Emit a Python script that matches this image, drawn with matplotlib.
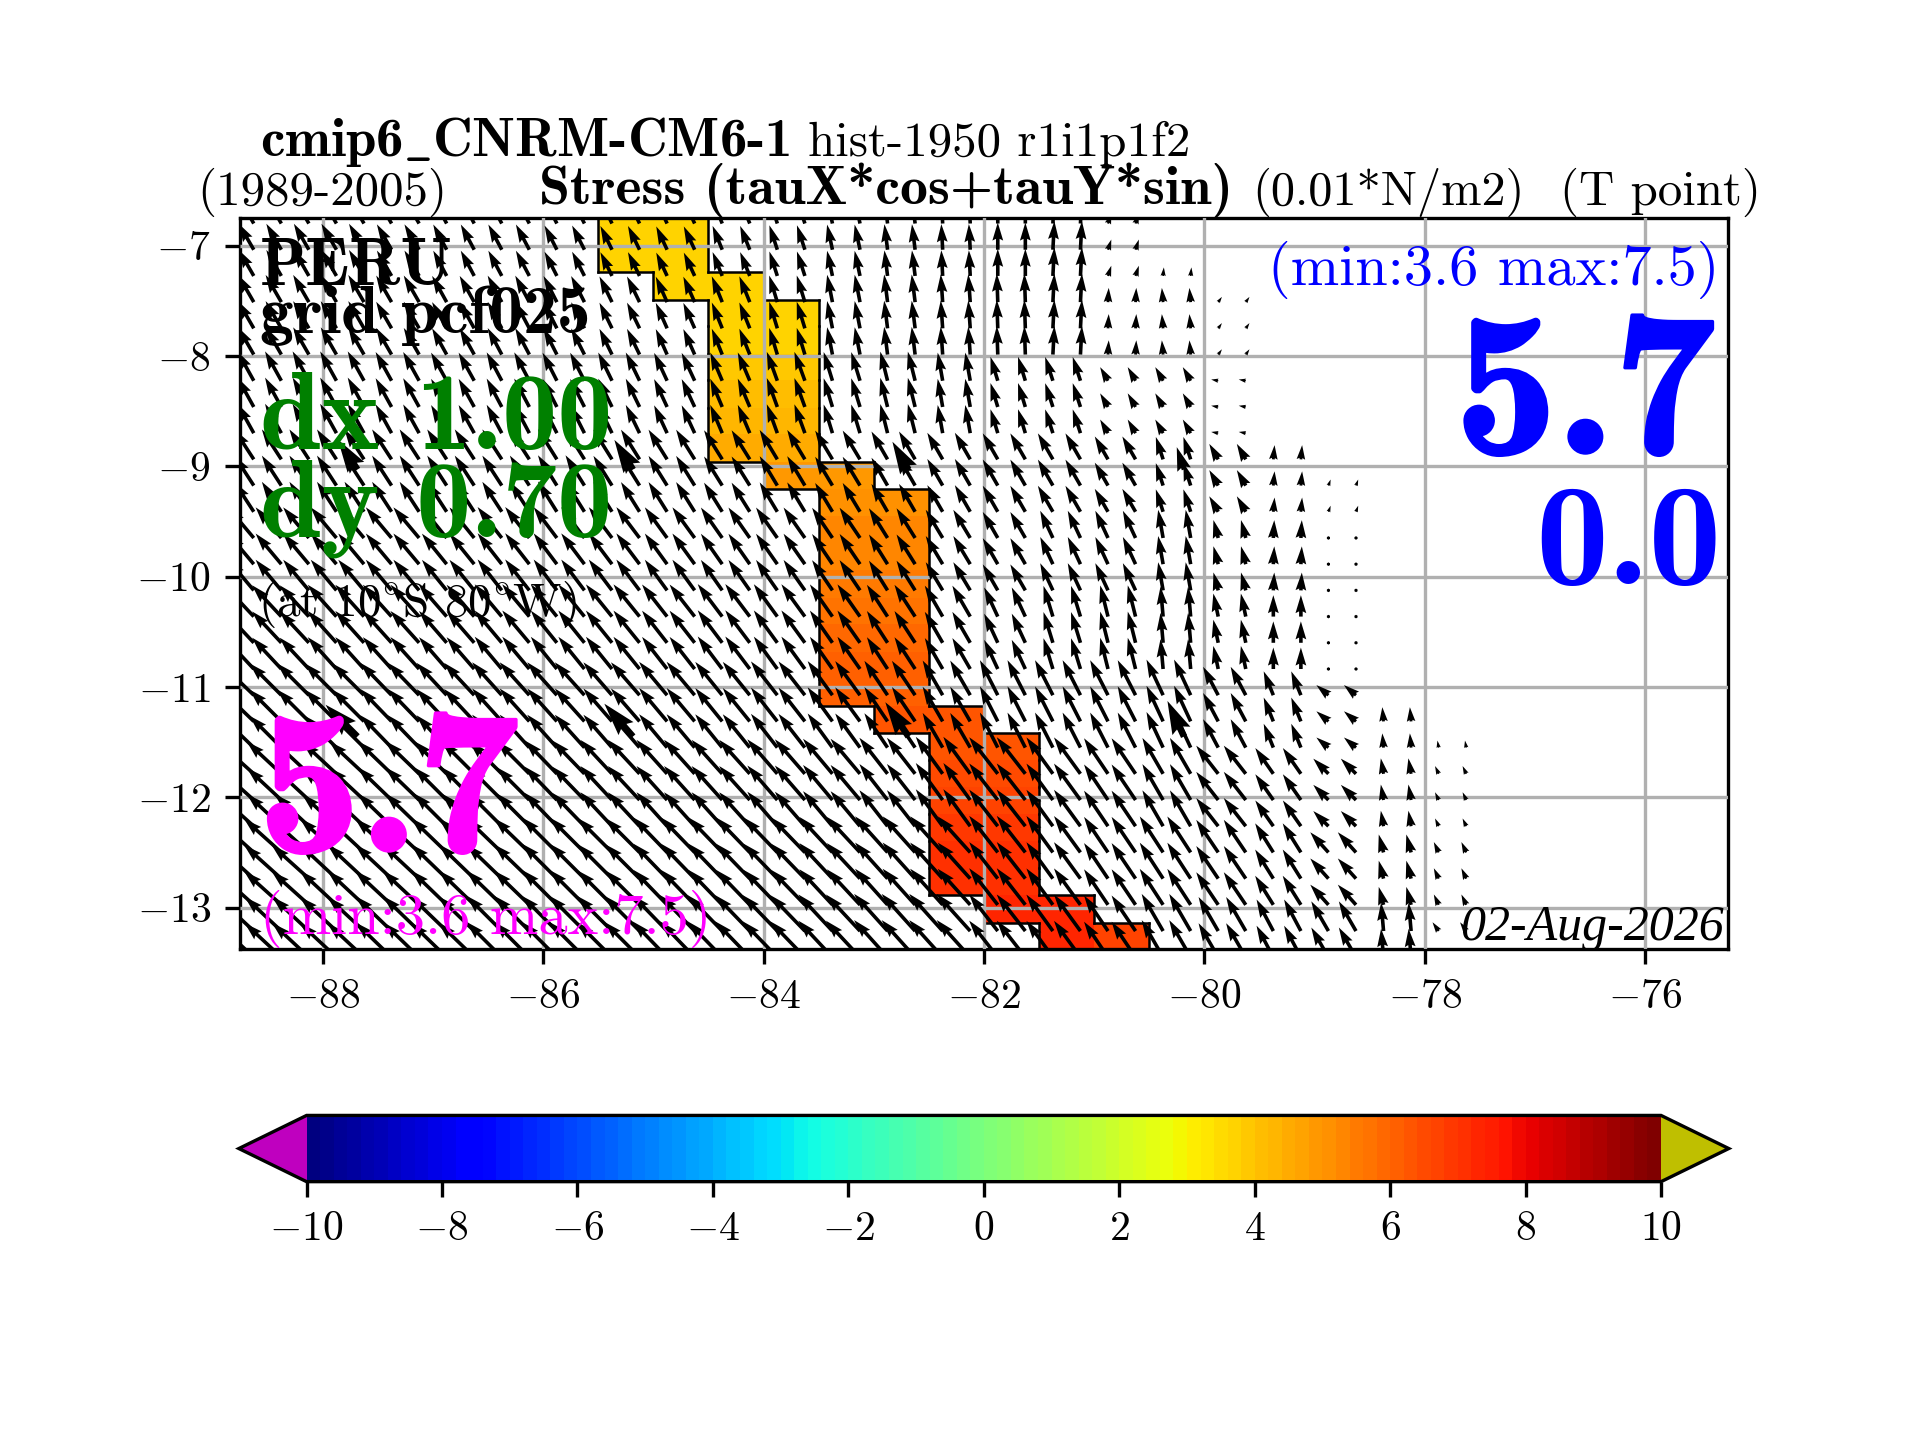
import numpy as np
import matplotlib
matplotlib.use("Agg")
import matplotlib.pyplot as plt
from matplotlib import patheffects
from matplotlib.colors import BoundaryNorm, ListedColormap
from matplotlib.ticker import FuncFormatter

plt.rcParams['font.family'] = ['cmr10', 'DejaVu Serif']
plt.rcParams['mathtext.fontset'] = 'cm'
plt.rcParams['axes.formatter.use_mathtext'] = True
plt.rcParams['axes.unicode_minus'] = False

# Stress arrows: 0.01*N/m2, one row per 3 arrow rows, one column per 0.5 deg from 89W
speed = [
    [4.2, 4.2, 4.2, 4.1, 4.0, 4.0, 3.8, 3.7, 3.6, 3.6, 3.6, 3.6, 3.6, 3.6, 3.8, 4.0, 1.5, 1.2, 0.9, 0, 0, 0, 0],
    [4.4, 4.4, 4.4, 4.3, 4.2, 4.2, 4.1, 4.0, 3.9, 3.9, 3.9, 3.9, 3.9, 3.9, 4.0, 4.0, 2.0, 2.0, 0.9, 0, 0, 0, 0],
    [4.7, 4.7, 4.7, 4.6, 4.5, 4.5, 4.4, 4.4, 4.3, 4.3, 4.3, 4.2, 4.2, 4.0, 3.5, 3.5, 2.2, 2.2, 1.0, 0, 0, 0, 0],
    [5.0, 5.0, 5.0, 5.0, 5.0, 5.0, 5.0, 4.9, 4.9, 4.8, 4.8, 4.7, 4.5, 4.3, 4.2, 4.2, 3.7, 3.3, 2.5, 2.0, 0.9, 0, 0],
    [5.6, 5.6, 5.6, 5.6, 5.5, 5.5, 5.4, 5.4, 5.3, 5.2, 5.2, 5.1, 4.9, 4.6, 4.2, 4.2, 4.2, 4.0, 2.6, 2.5, 0.4, 0, 0],
    [6.0, 6.0, 6.0, 6.0, 5.9, 5.9, 5.8, 5.8, 5.7, 5.7, 5.6, 5.5, 5.3, 5.0, 4.5, 4.5, 4.5, 4.2, 3.3, 3.0, 0.4, 0, 0],
    [6.3, 6.3, 6.3, 6.3, 6.2, 6.2, 6.2, 6.1, 6.1, 6.0, 6.0, 5.9, 5.8, 5.6, 5.5, 5.5, 5.5, 5.5, 4.5, 3.6, 2.2, 2.0, 1.0],
    [6.6, 6.6, 6.6, 6.6, 6.5, 6.5, 6.5, 6.5, 6.4, 6.4, 6.4, 6.4, 6.4, 6.4, 6.5, 6.3, 6.0, 5.8, 5.0, 4.4, 3.0, 2.2, 1.2],
    [7.0, 7.0, 7.0, 7.0, 6.9, 6.9, 6.9, 6.8, 6.8, 6.8, 6.8, 6.8, 6.8, 6.8, 6.5, 6.3, 6.0, 6.0, 5.5, 4.8, 3.8, 2.6, 1.6],
    [7.0, 7.0, 7.0, 7.0, 7.0, 7.0, 7.0, 7.0, 7.0, 7.0, 7.0, 7.0, 7.0, 7.0, 6.5, 6.3, 6.0, 6.0, 5.5, 5.0, 4.8, 4.0, 1.5],
]
# degrees west of north
lean = [
    [30, 30, 30, 30, 28, 28, 27, 26, 25, 22, 18, 12, 7, 3, 0, -3, -18, -5, -35, 0, 0, 0, 0],
    [30, 30, 30, 30, 29, 28, 27, 26, 24, 22, 17, 11, 7, 4, 2, -3, -3, 5, -35, 0, 0, 0, 0],
    [29, 29, 29, 29, 29, 28, 27, 26, 25, 23, 20, 17, 14, 10, 17, 18, 30, 30, 80, 0, 0, 0, 0],
    [33, 33, 33, 33, 33, 33, 32, 32, 32, 32, 31, 31, 30, 30, 30, 30, 30, 18, 30, -5, -20, 0, 0],
    [40, 40, 40, 40, 39, 38, 37, 37, 36, 35, 35, 34, 32, 31, 30, 25, 25, 10, 15, -3, 0, 0, 0],
    [43, 43, 42, 42, 41, 40, 39, 39, 38, 37, 36, 35, 33, 30, 25, 17, 14, 5, 12, 0, 0, 0, 0],
    [46, 45, 45, 44, 43, 42, 42, 41, 40, 39, 38, 36, 34, 30, 27, 27, 27, 25, 28, 22, 50, 5, 10],
    [48, 47, 47, 46, 45, 45, 44, 43, 42, 42, 41, 40, 38, 36, 38, 36, 34, 30, 38, 35, 45, 10, 25],
    [48, 48, 47, 47, 46, 46, 45, 45, 44, 44, 44, 43, 42, 42, 38, 36, 34, 33, 34, 32, 42, 15, 25],
    [47, 47, 47, 46, 46, 45, 45, 45, 44, 44, 44, 43, 42, 42, 38, 36, 34, 30, 30, 28, 30, 5, 35],
]
# last column with data in each arrow row
last_col = [16, 16, 17, 18, 18, 18, 18, 18, 18, 19, 20, 20, 20, 20, 20, 20, 20, 20, 20, 21,
            22, 22, 22, 22, 22, 22, 22, 22, 22]
# latitudes of the heavier arrows
heavy_lat = [-9.03, -11.45]

# Shaded cells
cell_lon = [-85.5, -85.0, -84.5, -84.0, -83.5, -83.0, -82.5, -82.0, -81.5, -81.0, -80.5]
cell_top = [-6.75, -6.75, -7.24, -7.49, -8.96, -9.21, -11.17, -11.42, -12.89, -13.14]
cell_bottom = [-7.24, -7.49, -8.96, -9.21, -11.17, -11.42, -12.89, -13.14, -13.38, -13.38]
cell_lat = [-6.75, -7.0, -7.24, -7.49, -7.73, -7.98, -8.22, -8.47, -8.71, -8.96, -9.21, -9.45, -9.70, -9.94,
            -10.19, -10.43, -10.68, -10.93, -11.17, -11.42, -11.66, -11.91, -12.15, -12.40, -12.64, -12.89,
            -13.14, -13.38]
cell_value = [3.6, 3.6, 3.6, 3.6, 3.7, 3.8, 4.0, 4.2, 4.4, 4.8, 5.0, 5.2, 5.3, 5.5,
               5.6, 5.8, 6.0, 6.1, 6.3, 6.3, 6.5, 6.6, 6.8, 7.0, 7.1, 7.3, 7.3]
last_cell_value = 6.7

speed = np.array(speed, dtype=float)
lean = np.radians(np.array(lean, dtype=float))

# arrow grid
lon = -88.875 + 0.25 * np.arange(46)
lat = -6.8 - 0.2375 * np.arange(29)
rows = np.minimum(np.arange(29) // 3, 9)
U = np.repeat(-speed * np.sin(lean), 2, axis=1)[rows]
V = np.repeat(speed * np.cos(lean), 2, axis=1)[rows]
for j, k in enumerate(last_col):
    U[j, 2 * (k + 1):] = np.nan
    V[j, 2 * (k + 1):] = np.nan

# cell field
Z = np.full((len(cell_value), len(cell_lon) - 1), np.nan)
for c in range(len(cell_lon) - 1):
    for r in range(len(cell_value)):
        if cell_lat[r] <= cell_top[c] and cell_lat[r + 1] >= cell_bottom[c]:
            Z[r, c] = cell_value[r]
Z[:, -1] = np.where(np.isnan(Z[:, -1]), np.nan, last_cell_value)

levels = np.arange(-10, 10.2, 0.2)
cmap = ListedColormap(plt.get_cmap('jet')(np.linspace(0, 1, len(levels) - 1)))
cmap.set_under('#bf00bf')
cmap.set_over('#bfbf00')
norm = BoundaryNorm(levels, cmap.N)

fig = plt.figure(figsize=(6.4, 4.8), dpi=300)
ax = fig.add_axes([0.125, 0.341, 0.775, 0.5076])

pc = ax.pcolormesh(cell_lon, cell_lat, Z, cmap=cmap, norm=norm, zorder=1)

# black outline round the shaded cells
mask = ~np.isnan(Z)
padded = np.pad(mask, 1)
for r in range(mask.shape[0]):
    for c in range(mask.shape[1]):
        if not mask[r, c]:
            continue
        w, e = cell_lon[c], cell_lon[c + 1]
        n, s = cell_lat[r], cell_lat[r + 1]
        if not padded[r, c + 1]:
            ax.plot([w, e], [n, n], 'k', lw=0.6, zorder=2)
        if not padded[r + 2, c + 1]:
            ax.plot([w, e], [s, s], 'k', lw=0.6, zorder=2)
        if not padded[r + 1, c]:
            ax.plot([w, w], [n, s], 'k', lw=0.6, zorder=2)
        if not padded[r + 1, c + 2]:
            ax.plot([e, e], [n, s], 'k', lw=0.6, zorder=2)

ax.quiver(lon, lat, U, V, units='inches', width=0.012, scale=42, scale_units='inches',
          angles='uv', color='k', zorder=3)
# every tenth arrow is drawn heavier
ax.quiver(lon[5::10] - 0.06, heavy_lat, U[9::10, 5::10], V[9::10, 5::10], units='inches', width=0.022,
          scale=42, scale_units='inches', angles='uv', color='k', zorder=3)

ax.set_xlim(-88.75, -75.25)
ax.set_ylim(-13.375, -6.75)
ax.set_xticks(np.arange(-88, -75, 2))
ax.set_yticks(np.arange(-13, -6, 1))
ax.xaxis.set_major_formatter(FuncFormatter(lambda v, p: '$%d$' % v))
ax.yaxis.set_major_formatter(FuncFormatter(lambda v, p: '$%d$' % v))
ax.grid(True)
ax.set_axisbelow(False)
for ln in ax.get_xgridlines() + ax.get_ygridlines():
    ln.set_zorder(4)

# colour bar
cax = fig.add_axes([0.1244, 0.1794, 0.776, 0.046])
cb = fig.colorbar(pc, cax=cax, orientation='horizontal', extend='both', spacing='proportional',
                  ticks=np.arange(-10, 11, 2))
cb.ax.xaxis.set_major_formatter(FuncFormatter(lambda v, p: '$%d$' % v))
cb.minorticks_off()


def put(x, y, s, **kw):
    # x, y measured on a 1568 wide picture, y from the top, at the text baseline
    kw.setdefault('va', 'baseline')
    return fig.text(x / 1568, 1 - y / 1176, s, zorder=10, **kw)


put(212, 127, r'cmip6$\_$CNRM-CM6-1', family='cmb10', fontsize=13.2)
put(660, 127, 'hist-1950 r1i1p1f2', fontsize=11.75)
put(161, 167, '(1989-2005)', fontsize=11.75)
put(440, 167, 'Stress (tauX*cos+tauY*sin)', family='cmb10', fontsize=13.4)
put(1023, 167, '(0.01*N/m2)', fontsize=11.6)
put(1274, 167, '(T point)', fontsize=11.75)

put(212, 233, 'PERU', family='cmb10', fontsize=16.2)
put(212, 272, 'grid pcf025', family='cmb10', fontsize=16.2)
put(212, 367, 'dx 1.00', family='cmb10', fontsize=26.5, color='green')
put(212, 438, 'dy 0.70', family='cmb10', fontsize=26.5, color='green')
put(211, 503, r'(at 10$^{\circ}$S 80$^{\circ}$W)', fontsize=11.3)

heavy = lambda col: [patheffects.withStroke(linewidth=0.8, foreground=col)]
put(211, 695, '5.7', family='cmb10', fontsize=49, color='magenta', path_effects=heavy('magenta'))
put(212, 763, '(min:3.6 max:7.5)', fontsize=14, color='magenta')
put(1404, 233, '(min:3.6 max:7.5)', fontsize=14, color='blue', ha='right')
put(1401, 370, '5.7', family='cmb10', fontsize=49, color='blue', ha='right', path_effects=heavy('blue'))
put(1406, 477, '0.0', family='cmb10', fontsize=35, color='blue', ha='right')
put(1408, 768, '02-Aug-2026', family='Liberation Serif', style='italic', fontsize=12, ha='right')

fig.savefig('out.png', dpi=300)
